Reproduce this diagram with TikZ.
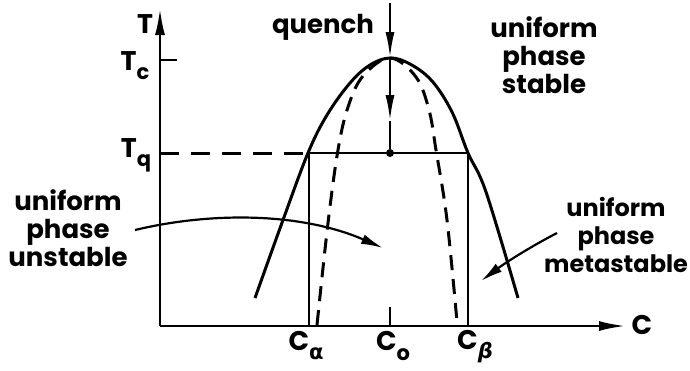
\documentclass[tikz,border=0pt]{standalone}
\usepackage{fontspec}
\setmainfont{Poppins}
\newfontfamily\greekfont{DejaVu Sans}
\usetikzlibrary{arrows.meta, positioning}
\newcommand\lowsub[1]{\raisebox{-0.6ex}{\fontsize{21}{21}\selectfont #1}}

\begin{document}
\begin{tikzpicture}[
    x=1pt, y=-1pt,
    axis/.style={line width=2.8pt, -{Latex[length=27pt,width=10pt]}},
    curve/.style={line width=3pt, line join=round},
    spinodal/.style={curve, dash pattern=on 15pt off 9pt},
    thin line/.style={line width=2.3pt},
    qarrow/.style={line width=2.4pt, -{Latex[length=26pt,width=9pt]}},
    pointer/.style={line width=2.2pt, -{Latex[length=22pt,width=10pt]}},
    dot/.style={circle, fill=black, inner sep=0pt, minimum size=8pt},
    lbl/.style={font=\bfseries\fontsize{26}{28}\selectfont, align=center, inner sep=0pt},
    ax/.style={font=\bfseries\fontsize{27}{27}\selectfont, inner sep=0pt}
]
\useasboundingbox (0,0) rectangle (690,370);

% Axes
\coordinate (O) at (160,326);
\coordinate (Ttip) at (160,8);
\coordinate (Ctip) at (626,326);
\draw[axis] (O) -- (Ttip);
\draw[axis] (O) -- (Ctip);
\node[ax] (T) at (145,24) {T};
\node[ax] (C) at (642,325) {C};

% Temperature marks
\coordinate (Tc) at (160,60);
\coordinate (Tcend) at (177,60);
\draw[thin line] (Tc) -- (Tcend);
\node[ax] (Tclbl) at (135,66) {T\lowsub{c}};
\node[ax] (Tqlbl) at (136,155) {T\lowsub{q}};

% Binodal (solid) and spinodal (dashed)
\draw[curve] plot[smooth, tension=0.6] coordinates {
    (255,298) (283,220) (308,153) (327,115) (350,83) (370,65) (390,58)
    (410,64) (432,81) (452,112) (468,153) (486,192) (518,298)};
\draw[spinodal] plot[smooth, tension=0.6] coordinates {
    (317,325) (328,223) (338,150) (348,107) (363,76) (390,58)
    (416,77) (429,110) (436,150) (447,220) (457,322)};

% Tie line at the quench temperature
\coordinate (Tq) at (160,153);
\coordinate (Ca) at (309,153);
\coordinate (Cb) at (468,153);
\draw[curve, dash pattern=on 19pt off 12pt] (Tq) -- (Ca);
\draw[thin line] (Ca) -- (Cb);
\draw[thin line] (Ca) -- (Ca |- O);
\draw[thin line] (Cb) -- (Cb |- O);

% Quench path
\coordinate (qtop) at (390,3);
\coordinate (peak) at (390,58);
\coordinate (qmid) at (390,121);
\node[dot] (q) at (390,153) {};
\draw[qarrow] (qtop) -- (peak);
\draw[qarrow] (peak) -- (qmid);
\draw[line width=2.4pt] (qmid) -- (q);
\node[lbl] (quench) at (323,27) {quench};

% Composition marks
\coordinate (C0) at (390,326);
\coordinate (C0end) at (390,307);
\draw[thin line] (C0) -- (C0end);
\node[ax] (Calbl) at (306,346) {C\lowsub{\greekfont\bfseries α}};
\node[ax] (C0lbl) at (393,346) {C\lowsub{o}};
\node[ax] (Cblbl) at (475,347) {C\lowsub{\greekfont\bfseries\itshape β}};

% Region labels
\node[lbl] (stable) at (544,55) {uniform\\phase\\stable};
\node[lbl] (unstable) at (68,228) {uniform\\phase\\unstable};
\node[lbl, font=\bfseries\fontsize{24}{28}\selectfont] (metastable) at (616,235) {uniform\\phase\\metastable};

% Pointers
\coordinate (ua) at (135,230);
\coordinate (ub) at (383,248);
\draw[pointer] (ua) .. controls (210,212) and (300,212) .. (ub);
\coordinate (ma) at (557,233);
\coordinate (mb) at (481,281);
\draw[pointer] (ma) .. controls (530,247) and (505,263) .. (mb);

\end{tikzpicture}
\end{document}
